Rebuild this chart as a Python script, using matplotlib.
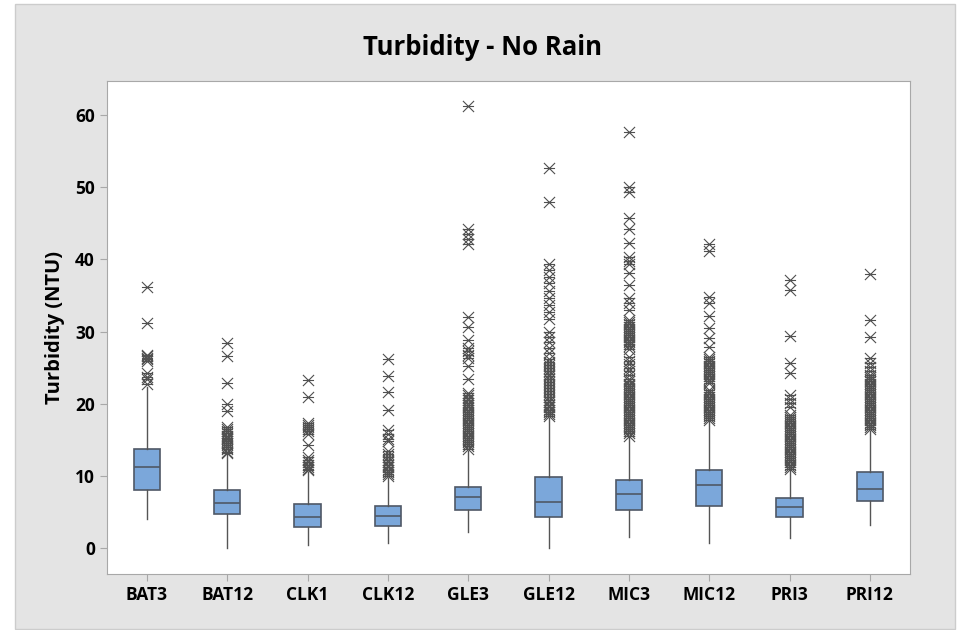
import matplotlib
matplotlib.use('Agg')
import matplotlib.pyplot as plt
from matplotlib.path import Path
from matplotlib.patches import Rectangle

# Summary stats
sites = ["BAT3", "BAT12", "CLK1", "CLK12", "GLE3", "GLE12", "MIC3", "MIC12", "PRI3", "PRI12"]
q1 = [8.1, 4.7, 2.9, 3.1, 5.3, 4.3, 5.3, 5.9, 4.3, 6.6]
med = [11.3, 6.3, 4.3, 4.5, 7.1, 6.4, 7.5, 8.8, 5.7, 8.2]
q3 = [13.8, 8.1, 6.1, 5.9, 8.5, 9.9, 9.5, 10.8, 7.0, 10.6]
whis_lo = [4.1, 0.0, 0.45, 0.7, 2.3, 0.0, 1.6, 0.7, 1.4, 3.2]
whis_hi = [22.3, 13.0, 10.6, 9.8, 13.5, 18.1, 15.4, 17.6, 10.8, 16.3]

out_bat3 = [36.2, 31.2, 26.8, 26.6, 26.4, 26.2, 26.0, 24.3, 23.7, 23.4, 22.8]
out_bat12 = [28.4, 26.6, 22.9, 20.0, 19.0, 16.8, 16.5, 16.2, 15.9, 15.6, 15.3, 15.1,
             14.8, 14.6, 14.3, 14.0, 13.7, 13.4, 13.2]
out_clk1 = [23.3, 20.9, 17.4, 17.1, 16.8, 16.5, 16.2, 15.8, 14.3, 12.6, 12.2, 11.9,
            11.6, 11.3, 11.0, 10.8]
out_clk12 = [26.2, 23.9, 21.7, 19.2, 16.4, 15.8, 15.2, 14.9, 13.5, 13.0, 12.6, 12.2,
             11.9, 11.5, 11.2, 10.9, 10.6, 10.3, 10.0]
out_gle3 = [61.3, 44.2, 43.5, 42.8, 42.1, 32.0, 30.6, 28.9, 27.8, 27.3, 26.8, 26.4,
            25.2, 23.5, 21.5, 21.2, 20.8, 20.5, 20.1, 19.8, 19.5, 19.2, 18.9, 18.6,
            18.3, 18.0, 17.7, 17.4, 17.1, 16.8, 16.5, 16.2, 15.9, 15.6, 15.3, 15.0,
            14.7, 14.4, 14.1, 13.8]
out_gle12 = [52.6, 47.9, 39.4, 38.5, 37.6, 36.7, 35.6, 34.6, 33.7, 32.7, 31.7, 30.0,
             29.3, 28.5, 27.8, 27.0, 26.2, 25.8, 25.4, 25.0, 24.6, 24.2, 23.8, 23.4,
             23.0, 22.6, 22.2, 21.8, 21.4, 21.0, 20.6, 20.2, 19.8, 19.5, 19.2, 18.9,
             18.6, 18.3]
out_mic3 = [57.6, 50.0, 49.3, 45.8, 44.2, 42.3, 40.4, 39.8, 39.3, 38.1, 36.5, 34.6,
            34.0, 33.0, 31.6, 31.3, 31.0, 30.7, 30.4, 30.1, 29.8, 29.5, 29.2, 28.9,
            28.6, 28.3, 28.0, 27.6, 26.5, 26.0, 25.5, 25.0, 24.5, 24.0, 23.4, 23.1,
            22.8, 22.5, 22.2, 21.9, 21.6, 21.3, 21.0, 20.7, 20.4, 20.1, 19.8, 19.5,
            19.2, 18.9, 18.6, 18.3, 18.0, 17.7, 17.4, 17.1, 16.8, 16.5, 16.2, 15.9,
            15.6]
out_mic12 = [42.2, 41.1, 34.8, 33.9, 32.1, 30.5, 29.1, 27.9, 26.5, 26.2, 25.9, 25.6,
             25.3, 25.0, 24.7, 24.4, 24.1, 23.8, 23.5, 23.2, 22.9, 21.9, 21.6, 21.3,
             21.0, 20.7, 20.4, 20.1, 19.8, 19.5, 19.2, 18.9, 18.6, 18.3, 18.0, 17.8]
out_pri3 = [37.2, 35.7, 29.4, 25.6, 24.3, 21.2, 20.7, 20.1, 19.6, 18.5, 18.2, 17.9,
            17.6, 17.3, 17.0, 16.7, 16.4, 16.1, 15.8, 15.5, 15.2, 14.9, 14.6, 14.3,
            14.0, 13.7, 13.4, 13.1, 12.8, 12.5, 12.2, 11.9, 11.6, 11.3, 11.0]
out_pri12 = [38.0, 31.6, 29.2, 26.4, 25.6, 25.1, 24.6, 24.0, 23.7, 23.4, 23.1, 22.8,
             22.5, 22.2, 21.9, 21.6, 21.3, 21.0, 20.7, 20.4, 20.1, 19.8, 19.5, 19.2,
             18.9, 18.6, 18.3, 18.0, 17.7, 17.4, 17.1, 16.8, 16.5]
outliers = [out_bat3, out_bat12, out_clk1, out_clk12, out_gle3, out_gle12,
            out_mic3, out_mic12, out_pri3, out_pri12]

y_ticks = [0, 10, 20, 30, 40, 50, 60]

plt.rcParams['font.family'] = ['Open Sans', 'DejaVu Sans']

# Minitab-style asterisk: X with a horizontal bar
star = Path([(-1, -1), (1, 1), (-1, 1), (1, -1), (-1, 0), (1, 0)],
            [Path.MOVETO, Path.LINETO, Path.MOVETO, Path.LINETO, Path.MOVETO, Path.LINETO])

fig = plt.figure(figsize=(9.65, 6.3), dpi=100, facecolor='white')
fig.patches.append(Rectangle((15 / 965, 1 / 630), 940 / 965, 625 / 630,
                             transform=fig.transFigure, facecolor='#e4e4e4',
                             edgecolor='#cccccc', linewidth=1, zorder=-5))
ax = fig.add_axes([0.1106, 0.0884, 0.8324, 0.783])

stats = []
for i in range(len(sites)):
    stats.append(dict(label=sites[i], q1=q1[i], med=med[i], q3=q3[i],
                      whislo=whis_lo[i], whishi=whis_hi[i], fliers=outliers[i]))

ax.bxp(stats, positions=range(1, len(sites) + 1), widths=0.33, patch_artist=True,
       showcaps=False,
       boxprops=dict(facecolor='#7ba7da', edgecolor='#4f5866', linewidth=1.2),
       medianprops=dict(color='#4f5866', linewidth=1.2),
       whiskerprops=dict(color='#555555', linewidth=1.0),
       flierprops=dict(marker=star, markersize=8, markeredgecolor='#505050',
                       markerfacecolor='none', markeredgewidth=0.8, linestyle='none'))

ax.set_xlim(0.5, 10.5)
ax.set_ylim(-3.6, 64.7)
ax.set_yticks(y_ticks)
ax.set_xticks(range(1, len(sites) + 1))
ax.set_xticklabels(sites)

for sp in ax.spines.values():
    sp.set_color('#a8a8a8')
ax.tick_params(colors='#a8a8a8', length=5, width=0.8, labelcolor='black', labelsize=12.5)
for lab in ax.get_xticklabels() + ax.get_yticklabels():
    lab.set_fontweight('bold')

ax.set_ylabel("Turbidity (NTU)", fontsize=14.5, fontweight='bold', labelpad=7)
fig.text(0.5, 0.925, "Turbidity - No Rain", ha='center', va='center',
         fontsize=18.5, fontweight='bold')

fig.savefig('out.png', dpi=100, facecolor=fig.get_facecolor())
